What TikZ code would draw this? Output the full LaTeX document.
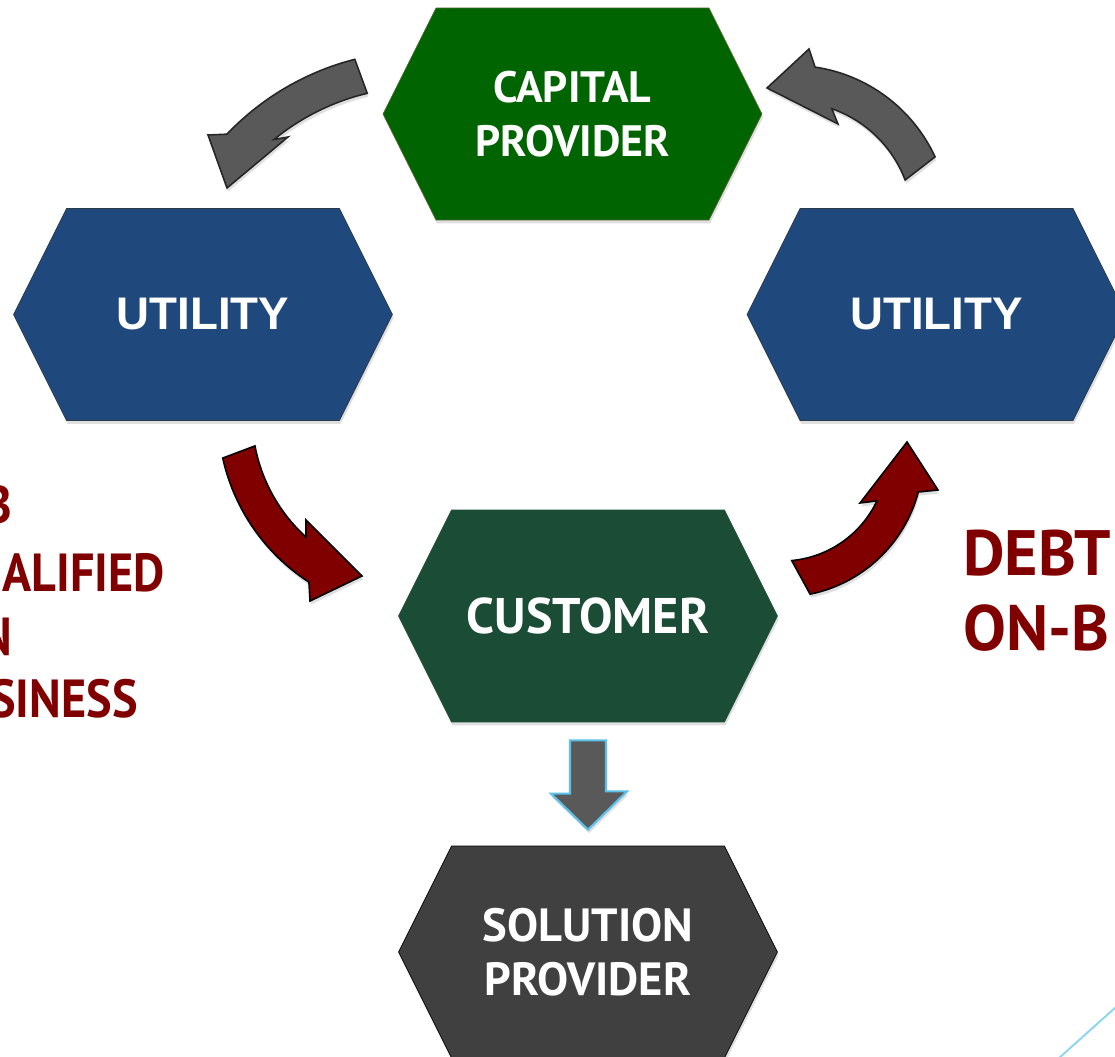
\documentclass[tikz,border=0pt]{standalone}
\usepackage{fontspec}
\usepackage{xcolor}
\usepackage{tikz}
\usetikzlibrary{positioning,calc}
\usetikzlibrary{shapes.symbols,shadows}
\newfontfamily\ptsans{PT Sans}
\newfontfamily\arialsans{Liberation Sans}
\def\fsz#1#2{\fontsize{#1}{#2}\selectfont}
\def\narrow#1{\scalebox{0.9}[1]{#1}}
\definecolor{capgreen}{RGB}{0,100,0}
\definecolor{capedge}{RGB}{79,98,40}
\definecolor{utilblue}{RGB}{31,73,125}
\definecolor{utiledge}{RGB}{44,58,74}
\definecolor{custgreen}{RGB}{26,76,54}
\definecolor{solgray}{RGB}{64,64,64}
\definecolor{arrgray}{RGB}{89,89,89}
\definecolor{arredge}{RGB}{38,38,38}
\definecolor{maroon}{RGB}{128,0,0}
\definecolor{skyline}{RGB}{140,214,240}
\definecolor{downedge}{RGB}{91,192,232}
\tikzstyle{hexa} = [shape=signal, signal to=west and east, signal pointer angle=126.87, minimum width=7.58cm, minimum height=4.24cm, inner sep=0pt, align=center, text=white, drop shadow={opacity=0.25, shadow xshift=0.6pt, shadow yshift=-2pt}]
\tikzstyle{grayarrow} = [fill=arrgray, draw=arredge, line width=0.9pt, drop shadow={opacity=0.25, shadow xshift=0.6pt, shadow yshift=-2pt}]
\tikzstyle{redarrow} = [fill=maroon, draw=black, line width=0.9pt, drop shadow={opacity=0.25, shadow xshift=0.6pt, shadow yshift=-2pt}]
\tikzstyle{downarrow} = [fill=arrgray, draw=downedge, line width=1.2pt, drop shadow={opacity=0.25, shadow xshift=0.6pt, shadow yshift=-2pt}]
\tikzstyle{redtext} = [text=maroon, inner sep=0pt]

\begin{document}
\begin{tikzpicture}[x=0.02cm, y=-0.02cm]
      \useasboundingbox (0,0) rectangle (1115,1057);
      \fill[white] (0,0) rectangle (1115,1057);
      \clip (0,0) rectangle (1115,1057);
      % boxes
      \node (cap) [hexa, fill=capgreen, draw=capedge, font=\ptsans\bfseries\fsz{25}{31}] at (572.5,114) {CAPITAL\\PROVIDER};
      \node (utl) [hexa, fill=utilblue, draw=utiledge, font=\arialsans\bfseries\fsz{26}{31}] at (203,314.5) {UTILITY};
      \node (utr) [hexa, fill=utilblue, draw=utiledge, font=\arialsans\bfseries\fsz{26}{31}] at (936.5,314.5) {UTILITY};
      \node (cust) [hexa, fill=custgreen, draw=custgreen, font=\ptsans\bfseries\fsz{28.5}{31}] at (588,616) {CUSTOMER};
      \node (sol) [hexa, fill=solgray, draw=black, font=\ptsans\bfseries\fsz{26.5}{31}] at (588,952) {SOLUTION\\PROVIDER};
      % side labels
      \node (lab1) [redtext, anchor=base east, font=\ptsans\bfseries\fsz{30.5}{40}] at (12,523) {\narrow{B}};
      \node (lab2) [redtext, anchor=base east, font=\ptsans\bfseries\fsz{30.5}{40}] at (165,591) {\narrow{ALIFIED}};
      \node (lab3) [redtext, anchor=base east, font=\ptsans\bfseries\fsz{30.5}{40}] at (13,655) {\narrow{N}};
      \node (lab4) [redtext, anchor=base east, font=\ptsans\bfseries\fsz{30.5}{40}] at (138,717) {\narrow{SINESS}};
      \node (debt) [redtext, anchor=base west, font=\ptsans\bfseries\fsz{36.5}{42}] at (963,575) {DEBT};
      \node (onb) [redtext, anchor=base west, font=\ptsans\bfseries\fsz{36.5}{42}] at (963,650) {ON-B};
      % centres of the curved arrows
      \coordinate (ca) at (421,319);
      \coordinate (cb) at (792,223);
      \coordinate (cc) at (417,415);
      \coordinate (cd) at (782,456);
      % capital provider -> left utility
      \filldraw[grayarrow] ($(ca)+(-104.3:268)$) arc[start angle=-104.3, end angle=-136.4, radius=268]
            -- (208,135) -- (227,188) -- (288,137)
            -- ($(ca)+(-129.3:232)$) arc[start angle=-129.3, end angle=-103.4, radius=232] -- cycle;
      % right utility -> capital provider
      \filldraw[grayarrow] ($(cb)+(-24.8:157.6)$) arc[start angle=-24.8, end angle=-81.6, radius=157.6]
            -- (809,49) -- (767,88) -- (838,124)
            -- ($(cb)+(-70.8:121)$) arc[start angle=-70.8, end angle=-20.8, radius=121] -- cycle;
      % left utility -> customer
      \filldraw[redarrow] ($(cc)+(167.5:199)$) arc[start angle=167.5, end angle=122.9, radius=199]
            -- (310,601) -- (362,576) -- (306,520)
            -- ($(cc)+(132.3:165)$) arc[start angle=132.3, end angle=169.2, radius=165] -- cycle;
      % customer -> right utility
      \filldraw[redarrow] ($(cd)+(78.5:141)$) arc[start angle=78.5, end angle=14.8, radius=141]
            -- (938,490) -- (907,442) -- (860,503)
            -- ($(cd)+(25.3:105)$) arc[start angle=25.3, end angle=84.7, radius=105] -- cycle;
      % customer -> solution provider
      \filldraw[downarrow] ($(cust.south)+(-18,18)$) -- ++(36,0) -- ++(0,51) -- ++(21,0)
            -- ($(sol.north)+(0,-16)$) -- ++(-37,-36) -- ++(19,0) -- cycle;
      \draw[skyline, line width=1.1pt] (1126,998) -- (1049,1067);
\end{tikzpicture}
\end{document}
